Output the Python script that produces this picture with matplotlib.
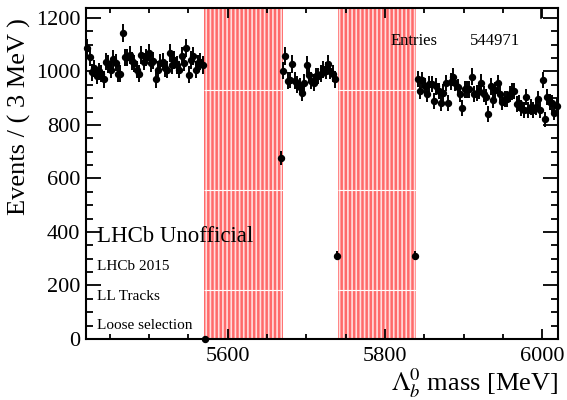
import numpy as np
import matplotlib
matplotlib.use('Agg')
import matplotlib.pyplot as plt
from matplotlib.ticker import MultipleLocator

plt.rcParams['font.family'] = ['Liberation Serif', 'DejaVu Serif']
plt.rcParams['mathtext.fontset'] = 'stix'
plt.rcParams['hatch.linewidth'] = 1.2

# binning: 3 MeV bins starting at 5420
x0 = 5420.0
width = 3.0

# visible bin contents
left_vals = [1087, 1054, 996, 1012, 983, 1000, 991, 971, 1037, 1028,
             1006, 1046, 1033, 991, 991, 1143, 1053, 1053, 1062, 1039,
             1031, 1006, 991, 1062, 1037, 1053, 1070, 1031, 1040, 971,
             1006, 1033, 1037, 1012, 1006, 1068, 1024, 1043, 1024, 1006,
             1058, 1033, 1087, 987, 1043, 1058, 1006, 1031, 1037, 1024]
mid_vals = [1003, 1058, 966, 968, 1028, 966, 952, 943, 918, 958,
            1024, 987, 966, 958, 983, 983, 991, 1008, 1003, 1028,
            1003, 991, 971]
right_vals = [972, 928, 968, 946, 916, 953, 953, 891, 944, 928,
              881, 921, 956, 881, 962, 981, 956, 941, 916, 862,
              933, 933, 933, 981, 916, 918, 928, 958, 916, 903,
              840, 944, 893, 931, 956, 916, 887, 896, 896, 916,
              925, 926, 878, 881, 862, 856, 906, 856, 868, 856,
              866, 896, 856, 968, 821, 903, 887, 881, 846, 871]
# bins at the edges of the vetoed regions: (bin index, content)
edge_bins = [(50, 0), (82, 675), (106, 312), (139, 312)]

# vetoed mass windows
bands = [(5570, 5670), (5740, 5840)]

idx = list(range(0, 50)) + list(range(83, 106)) + list(range(140, 200))
vals = left_vals + mid_vals + right_vals
for k, v in edge_bins:
    idx.append(k)
    vals.append(v)
idx = np.array(idx)
vals = np.array(vals, dtype=float)
centers = x0 + width * (idx + 0.5)
errs = np.sqrt(vals)

fig = plt.figure(figsize=(5.67, 4.0), dpi=100)
ax = fig.add_axes([0.1517, 0.1525, 0.8323, 0.8275])

for lo, hi in bands:
    ax.axvspan(lo, hi, facecolor='#ff6a6a', edgecolor='#ffdede',
               hatch='||||', linewidth=0, zorder=1)
    ax.hlines([931, 557, 183], lo, hi, colors='white', linewidth=0.8, zorder=1.5)

ax.errorbar(centers, vals, yerr=errs, fmt='o', color='black', ms=4.3,
            elinewidth=1.4, capsize=0, zorder=3, clip_on=False)

ax.set_xlim(5420, 6020)
ax.set_ylim(0, 1237)

ax.xaxis.set_major_locator(MultipleLocator(200))
ax.xaxis.set_minor_locator(MultipleLocator(50))
ax.yaxis.set_major_locator(MultipleLocator(200))
ax.yaxis.set_minor_locator(MultipleLocator(50))
ax.tick_params(which='both', direction='in', top=True, right=True,
               width=1.3, labelsize=16)
ax.tick_params(axis='y', which='major', length=10.5, pad=4)
ax.tick_params(axis='y', which='minor', length=5)
ax.tick_params(axis='x', which='major', length=7, pad=6)
ax.tick_params(axis='x', which='minor', length=3.5)
for s in ax.spines.values():
    s.set_linewidth(1.5)

ax.set_ylabel('Events / ( 3 MeV )', fontsize=19, loc='top')
ax.yaxis.set_label_coords(-0.117, 0.97)
ax.set_xlabel(r'$\Lambda_b^0$ mass [MeV]', fontsize=19, loc='right', labelpad=0)

ax.text(0.023, 0.31, 'LHCb Unofficial', transform=ax.transAxes, fontsize=16.5,
        va='center')
ax.text(0.023, 0.218, 'LHCb 2015', transform=ax.transAxes, fontsize=11,
        va='center')
ax.text(0.023, 0.128, 'LL Tracks', transform=ax.transAxes, fontsize=11,
        va='center')
ax.text(0.023, 0.04, 'Loose selection', transform=ax.transAxes, fontsize=11,
        va='center')
ax.text(0.645, 0.9, 'Entries', transform=ax.transAxes, fontsize=12, va='center')
ax.text(0.813, 0.9, '544971', transform=ax.transAxes, fontsize=12, va='center')

# corner of the stats box
ax.plot([0.965, 0.965], [0.97, 1.0], transform=ax.transAxes, color='black',
        lw=1.2, clip_on=False)

fig.savefig('out.png', dpi=100)
